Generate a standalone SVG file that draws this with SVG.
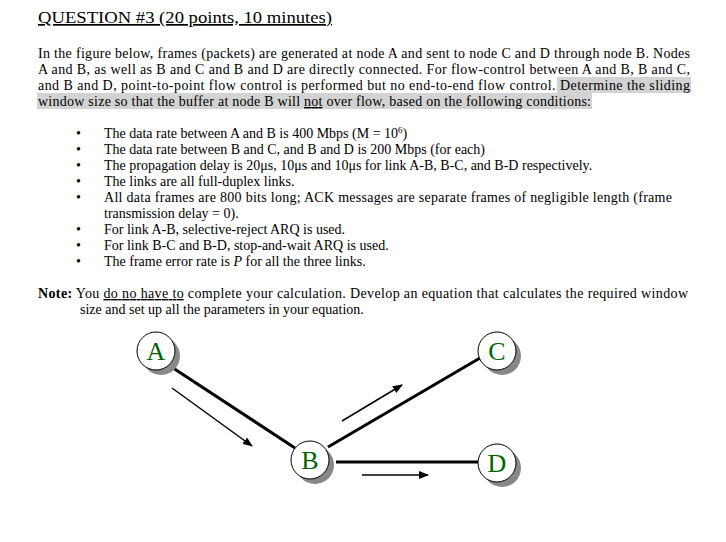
<svg xmlns="http://www.w3.org/2000/svg" width="726" height="542" viewBox="0 0 726 542">
<style>
text{font-family:"Liberation Serif","Times New Roman",serif;font-size:14px;fill:#000}
.n circle.s{fill:#888}
.n circle.f{fill:#fff;stroke:#000;stroke-width:1}
.n text{font-size:26px;fill:#006400;text-anchor:middle}
.e{stroke:#000;stroke-width:3}
.a{stroke:#000;stroke-width:1.5;marker-end:url(#ah)}
</style>
<defs><marker id="ah" markerWidth="10" markerHeight="8" refX="9" refY="4" orient="auto" markerUnits="userSpaceOnUse"><path d="M0,0L10,4L0,8z" fill="#000"/></marker></defs>
<rect width="726" height="542" fill="#fff"/>
<text x="38" y="23" style="font-size:17px" textLength="294" lengthAdjust="spacingAndGlyphs" text-decoration="underline">QUESTION #3 (20 points, 10 minutes)</text>
<rect x="557" y="77" width="134" height="16" fill="#d3d3d3"/>
<rect x="37" y="93" width="555" height="16" fill="#d3d3d3"/>
<text x="38" y="58" textLength="652" lengthAdjust="spacing">In the figure below, frames (packets) are generated at node A and sent to node C and D through node B.  Nodes</text>
<text x="38" y="74" textLength="652" lengthAdjust="spacing">A and B, as well as B and C and B and D are directly connected.  For flow-control between A and B, B and C,</text>
<text x="38" y="90" textLength="652" lengthAdjust="spacing">and B and D, point-to-point flow control is performed but no end-to-end flow control.  Determine the sliding</text>
<text x="38" y="106" textLength="553" lengthAdjust="spacing">window size so that the buffer at node B will <tspan text-decoration="underline">not</tspan> over flow, based on the following conditions:</text>
<g>
<text x="76" y="138">•</text><text x="104" y="138">The data rate between A and B is 400 Mbps (M = 10<tspan font-size="9" dy="-5">6</tspan><tspan dy="5">)</tspan></text>
<text x="76" y="154">•</text><text x="104" y="154">The data rate between B and C, and B and D is 200 Mbps (for each)</text>
<text x="76" y="170">•</text><text x="104" y="170">The propagation delay is 20μs, 10μs and 10μs for link A-B, B-C, and B-D respectively.</text>
<text x="76" y="186">•</text><text x="104" y="186">The links are all full-duplex links.</text>
<text x="76" y="202">•</text><text x="104" y="202" textLength="568" lengthAdjust="spacing">All data frames are 800 bits long; ACK messages are separate frames of negligible length (frame</text>
<text x="104" y="218">transmission delay = 0).</text>
<text x="76" y="234">•</text><text x="104" y="234">For link A-B, selective-reject ARQ is used.</text>
<text x="76" y="250">•</text><text x="104" y="250">For link B-C and B-D, stop-and-wait ARQ is used.</text>
<text x="76" y="266">•</text><text x="104" y="266">The frame error rate is <tspan font-style="italic">P</tspan> for all the three links.</text>
</g>
<text x="38" y="298" textLength="650" lengthAdjust="spacing"><tspan font-weight="bold">Note:</tspan> You <tspan text-decoration="underline">do no have to</tspan> complete your calculation.  Develop an equation that calculates the required window</text>
<text x="80" y="314">size and set up all the parameters in your equation.</text>
<g id="connectors">
<line class="e" x1="170" y1="366" x2="295" y2="448"/>
<line class="e" x1="328" y1="447" x2="480" y2="358"/>
<line class="e" x1="336" y1="462" x2="478" y2="462"/>
<line class="a" x1="172" y1="388" x2="252" y2="446"/>
<line class="a" x1="342" y1="421" x2="402" y2="385"/>
<line class="a" x1="362" y1="475" x2="428" y2="475"/>
</g>
<g id="A" class="n"><circle class="s" cx="161" cy="356" r="19"/><circle class="f" cx="156" cy="351" r="19"/><text x="156" y="360">A</text></g>
<g id="C" class="n"><circle class="s" cx="502" cy="356" r="19"/><circle class="f" cx="497" cy="351" r="19"/><text x="497" y="360">C</text></g>
<g id="B" class="n"><circle class="s" cx="315" cy="465" r="19"/><circle class="f" cx="310" cy="460" r="19"/><text x="310" y="469">B</text></g>
<g id="D" class="n"><circle class="s" cx="502" cy="468" r="19"/><circle class="f" cx="497" cy="463" r="19"/><text x="497" y="472">D</text></g>
</svg>
